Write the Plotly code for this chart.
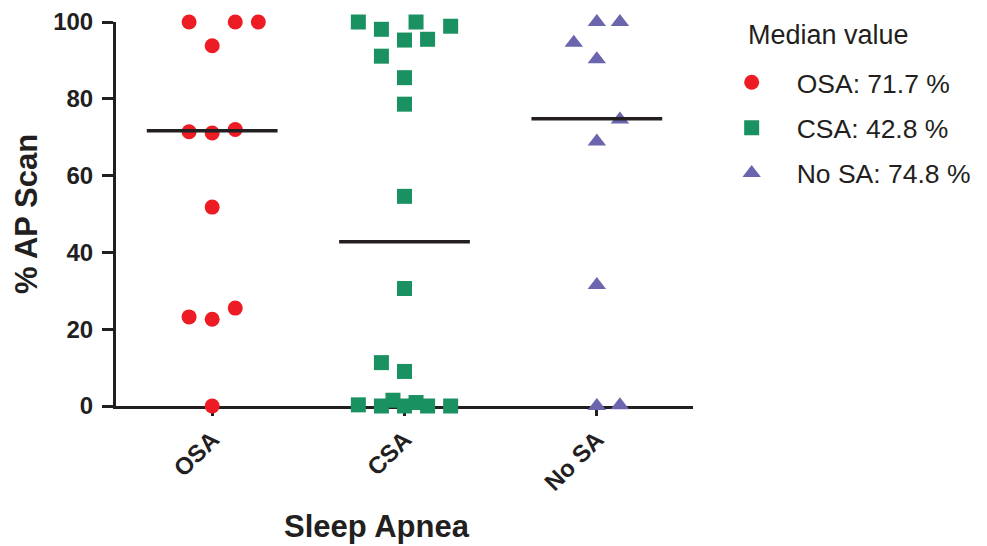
import plotly.graph_objects as go

# ---- data ----
categories = ["OSA", "CSA", "No SA"]
medians = [71.7, 42.8, 74.8]

osa_values = [100, 100, 100, 93.8, 71.4, 71.1, 72.0, 51.8, 23.2, 22.6, 25.5, 0]
osa_slots = [-1, 1, 2, 0, -1, 0, 1, 0, -1, 0, 1, 0]

csa_values = [100, 98.1, 100, 95.3, 95.5, 98.9, 91.1, 85.5, 78.6, 54.6, 30.6,
              11.3, 9.0, 0.3, 0, 1.5, 0, 0.9, 0, 0]
csa_slots = [-2, -1, 0.5, 0, 1, 2, -1, 0, 0, 0, 0, -1, 0, -2, -1, -0.5, 0, 0.5, 1, 2]

nosa_values = [100, 100, 94.6, 90.3, 74.6, 68.9, 31.5, 0, 0.2]
nosa_slots = [0, 1, -1, 0, 1, 0, 0, 0, 1]

y_ticks = [0, 20, 40, 60, 80, 100]

x_title = "Sleep Apnea"
y_title = "% AP Scan"
legend_title = "Median value"

# ---- styling ----
FONT = "Liberation Sans, Arial, Helvetica, sans-serif"
INK = "#231F20"
colors = ["#ED1C24", "#1A9160", "#6B65AE"]
symbols = ["circle", "square", "triangle-up"]
sizes = [15, 15, 16]
SLOT_W = 0.12
HALF_LINE = 0.34

groups = [(osa_values, osa_slots), (csa_values, csa_slots), (nosa_values, nosa_slots)]

fig = go.Figure()
for i, ((vals, slots), cat, med) in enumerate(zip(groups, categories, medians)):
    fig.add_trace(go.Scatter(
        x=[i + s * SLOT_W for s in slots], y=vals, mode="markers",
        marker=dict(color=colors[i], symbol=symbols[i], size=sizes[i], line=dict(width=0)),
        name=f"{cat}: {med} %", legendgroup=cat,
        cliponaxis=False,
    ))

for i, med in enumerate(medians):
    fig.add_trace(go.Scatter(
        x=[i - HALF_LINE, i + HALF_LINE], y=[med, med], mode="lines",
        line=dict(color=INK, width=3.5), showlegend=False, hoverinfo="skip",
        cliponaxis=False,
    ))

fig.update_layout(
    width=987, height=546,
    margin=dict(l=108, r=302, t=14, b=148, autoexpand=False),
    paper_bgcolor="white", plot_bgcolor="white",
    font=dict(family=FONT, color=INK),
    showlegend=True,
    legend=dict(
        x=1.0237, y=0.905, xanchor="left", yanchor="top",
        font=dict(size=26.5, color=INK),
        tracegroupgap=8, itemwidth=80,
        bgcolor="rgba(0,0,0,0)",
    ),
    xaxis=dict(
        range=[-0.5, 2.5], tickmode="array", tickvals=[0, 1, 2], ticktext=categories,
        showline=True, linewidth=3, linecolor=INK, showgrid=False, zeroline=False,
        ticks="outside", ticklen=7, tickwidth=3, tickcolor=INK,
        tickangle=-45, tickfont=dict(size=24, weight="bold", color=INK),
        layer="below traces", automargin=False,
    ),
    yaxis=dict(
        range=[0, 100], tickmode="array", tickvals=y_ticks,
        showline=True, linewidth=3, linecolor=INK, showgrid=False, zeroline=False,
        ticks="outside", ticklen=11, tickwidth=3, tickcolor=INK, ticklabelstandoff=4,
        tickfont=dict(size=24, weight="bold", color=INK),
        title=dict(text=y_title, font=dict(size=31, weight="bold", color=INK), standoff=7),
        layer="below traces", automargin=False,
    ),
    annotations=[
        dict(text=x_title, xref="paper", yref="paper", x=0.4523, y=-0.315,
             xanchor="center", yanchor="middle", showarrow=False,
             font=dict(size=31, weight="bold", color=INK)),
        dict(text=legend_title, xref="paper", yref="paper", x=1.0917, y=0.965,
             xanchor="left", yanchor="middle", showarrow=False,
             font=dict(size=27, color=INK)),
    ],
)

fig.write_html("out.html")
